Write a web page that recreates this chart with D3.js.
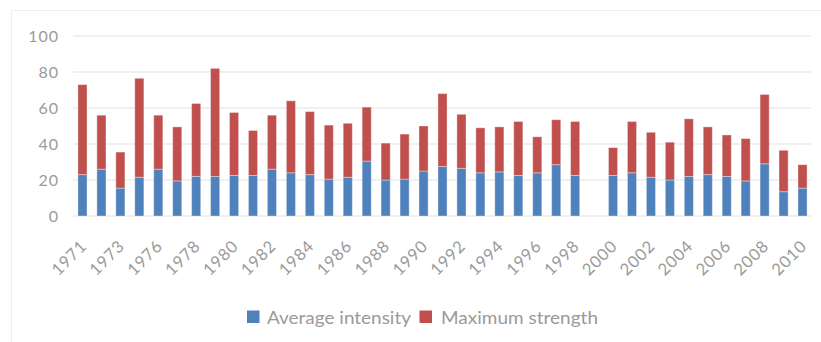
<!DOCTYPE html>
<html>
<head>
<meta charset="utf-8">
<script src="https://cdn.jsdelivr.net/npm/d3@7"></script>
<style>
  html, body { margin: 0; padding: 0; background: #fff; }
  svg { display: block; }
  text { font-family: Lato, "Open Sans", sans-serif; fill: #9a9a9a; }
</style>
</head>
<body>
<svg id="chart" width="821" height="342"></svg>
<script>
// Years on the category axis (1999 has no record)
const years = ["1971","1972","1973","1975","1976","1977","1978","1979","1980","1981",
  "1982","1983","1984","1985","1986","1987","1988","1989","1990","1991",
  "1992","1993","1994","1995","1996","1997","1998","1999","2000","2001",
  "2002","2003","2004","2005","2006","2007","2008","2009","2010"];

// Stacked series: lower segment and upper segment
const averageIntensity = [23, 26, 15.5, 21.5, 26, 19.5, 22, 22, 22.5, 22.5,
  26, 24, 23, 20.5, 21.5, 30.5, 20, 20.5, 25, 27.5,
  26.5, 24, 24.5, 22.5, 24, 28.5, 22.5, null, 22.5, 24,
  21.5, 20, 22, 23, 22, 19.5, 29, 13.5, 15.5];
const maximumStrength = [50, 30, 20, 55, 30, 30, 40.5, 60, 35, 25,
  30, 40, 35, 30, 30, 30, 20.5, 25, 25, 40.5,
  30, 25, 25, 30, 20, 25, 30, null, 15.5, 28.5,
  25, 21, 32, 26.5, 23, 23.5, 38.5, 23, 13];

const yTicks = [0, 20, 40, 60, 80, 100];
// Every second year is labelled
const xTickLabels = years.filter((d, i) => i % 2 === 0);

const seriesNames = ["Average intensity", "Maximum strength"];
const colors = ["#4f81bd", "#c0504d"];

const svg = d3.select("#chart");

// Outer chart frame
svg.append("rect")
  .attr("x", 11.5).attr("y", 10.5)
  .attr("width", 830).attr("height", 340)
  .attr("fill", "none").attr("stroke", "#efefef").attr("stroke-width", 1);

const x = d3.scaleBand().domain(years).range([73, 812]).paddingInner(0.52).paddingOuter(0.26);
const y = d3.scaleLinear().domain([0, 100]).range([216, 36]);

// Horizontal gridlines
svg.append("g").selectAll("line").data(yTicks).join("line")
  .attr("x1", 73).attr("x2", 811)
  .attr("y1", d => y(d)).attr("y2", d => y(d))
  .attr("stroke", "#f0f0f0").attr("stroke-width", 2);

// Y axis labels
const yAxis = d3.axisLeft(y).tickValues(yTicks).tickSize(0).tickPadding(0);
svg.append("g").attr("transform", "translate(59,0)").call(yAxis)
  .call(g => g.select(".domain").remove())
  .call(g => g.selectAll("text")
    .attr("font-size", 16).attr("letter-spacing", 1)
    .style("font-family", "Lato, sans-serif").attr("fill", "#9a9a9a"));

// Stacked bars
const rows = years.map((yr, i) => ({ year: yr, a: averageIntensity[i], m: maximumStrength[i] }));
const stacked = d3.stack().keys(["a", "m"]).value((d, k) => d[k] == null ? 0 : d[k])(rows);

svg.append("g").selectAll("g").data(stacked).join("g")
  .attr("fill", (d, i) => colors[i])
  .selectAll("rect").data(d => d.filter(p => p[1] > p[0])).join("rect")
  .attr("x", d => x(d.data.year))
  .attr("width", x.bandwidth())
  .attr("y", d => y(d[1]))
  .attr("height", d => y(d[0]) - y(d[1]))
  .attr("stroke", "rgba(255,255,255,0.35)").attr("stroke-width", 1);

// X axis labels, rotated
const xAxis = d3.axisBottom(x).tickValues(xTickLabels).tickSize(0).tickPadding(0);
svg.append("g").attr("transform", "translate(0,216)").call(xAxis)
  .call(g => g.select(".domain").remove())
  .call(g => g.selectAll("text")
    .attr("font-size", 16.5).attr("letter-spacing", 0.8)
    .attr("fill", "#9a9a9a")
    .attr("text-anchor", "end")
    .attr("dy", null).attr("y", null)
    .attr("dominant-baseline", "central")
    .attr("transform", "translate(1,27) rotate(-45)"));

// Legend
const legend = svg.append("g");
const legendItems = [
  { name: seriesNames[0], color: colors[0], sx: 247, tx: 267, w: 144 },
  { name: seriesNames[1], color: colors[1], sx: 419.5, tx: 441, w: 157 }
];
legendItems.forEach(it => {
  legend.append("rect").attr("x", it.sx).attr("y", 310.5)
    .attr("width", 12.5).attr("height", 12.5).attr("fill", it.color);
  legend.append("text").attr("x", it.tx).attr("y", 323.5)
    .attr("font-size", 17.5)
    .attr("textLength", it.w).attr("lengthAdjust", "spacingAndGlyphs")
    .text(it.name);
});
</script>
</body>
</html>
